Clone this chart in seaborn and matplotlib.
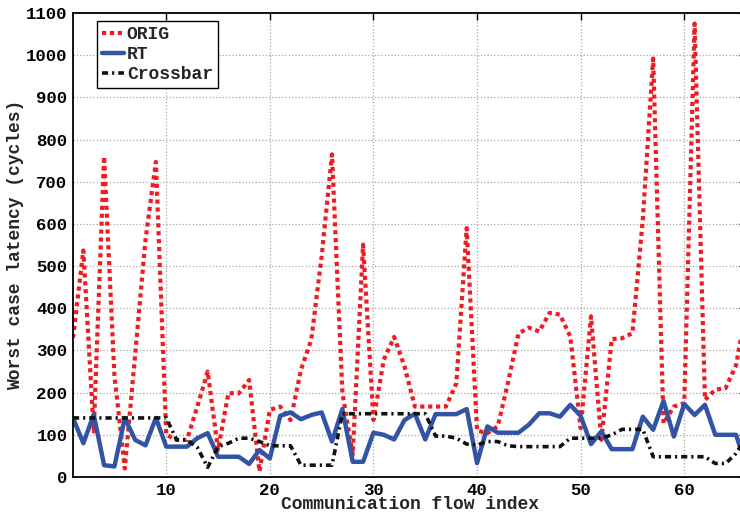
import matplotlib
matplotlib.use("Agg")
import matplotlib.pyplot as plt
import numpy as np
import pandas as pd
import seaborn as sns

# ---------------- data ----------------
flow_index = list(range(1, 67))
orig = [330, 537, 108, 760, 240, 20, 290, 563, 747, 100,
        88, 88, 167, 250, 64, 199, 198, 230, 13, 159,
        167, 135, 254, 325, 523, 765, 200, 53, 551, 135,
        278, 332, 262, 167, 167, 167, 167, 222, 590, 110,
        104, 120, 225, 340, 354, 345, 389, 385, 333, 116,
        381, 88, 327, 329, 341, 610, 992, 127, 167, 175,
        1075, 183, 207, 211, 265, 400]
rt = [140, 80, 148, 28, 25, 140, 88, 75, 140, 72,
      72, 72, 92, 104, 48, 48, 48, 31, 64, 44,
      145, 153, 137, 147, 153, 84, 161, 36, 36, 105,
      100, 89, 135, 150, 89, 149, 149, 149, 161, 33,
      120, 105, 105, 105, 124, 151, 151, 143, 171, 145,
      78, 108, 66, 66, 66, 143, 112, 180, 96, 173,
      147, 171, 100, 100, 100, 27]
crossbar = [140, 140, 140, 140, 140, 140, 140, 140, 140, 140,
            88, 88, 70, 23, 72, 80, 92, 92, 84, 74,
            74, 74, 28, 28, 28, 28, 150, 150, 150, 150,
            150, 150, 150, 150, 150, 97, 97, 92, 78, 76,
            84, 84, 74, 72, 72, 72, 72, 72, 92, 92,
            92, 92, 100, 113, 113, 113, 48, 48, 48, 48,
            48, 48, 32, 32, 56, 95]
series_names = ["ORIG", "RT", "Crossbar"]
x_ticks = [10, 20, 30, 40, 50, 60]
y_ticks = list(range(0, 1101, 100))
x_label = "Communication flow index"
y_label = "Worst case latency (cycles)"

# ---------------- style ----------------
sns.set_style("white")
plt.rcParams["font.family"] = ["Liberation Mono", "DejaVu Sans Mono"]
plt.rcParams["font.weight"] = "bold"

df = pd.DataFrame({
    "x": flow_index * 3,
    "y": orig + rt + crossbar,
    "series": [series_names[0]] * len(orig) + [series_names[1]] * len(rt)
              + [series_names[2]] * len(crossbar),
})

fig = plt.figure(figsize=(7.4, 5.12), dpi=100)
W, H = 740, 512
left_px, bottom_px = 73, 35
x0, x1 = 1, 66
px_per_unit = 10.36
ax = fig.add_axes([left_px / W, bottom_px / H,
                   (x1 - x0) * px_per_unit / W, (477 - 13) / H])

styles = {
    "ORIG": dict(color="#ee1d25", lw=3.0, linestyle=(0, (1.0, 0.9))),
    "RT": dict(color="#3354a5", lw=3.2, linestyle="-"),
    "Crossbar": dict(color="#111111", lw=2.6, linestyle=(0, (1.7, 1.1, 0.6, 1.1))),
}
for name in series_names:
    sub = df[df["series"] == name]
    sns.lineplot(data=sub, x="x", y="y", ax=ax, label=name,
                 errorbar=None, **styles[name])

ax.set_xlim(x0, x1)
ax.set_ylim(0, 1100)
ax.set_xticks(x_ticks)
ax.set_yticks(y_ticks)
ax.grid(True, which="major", linestyle=":", color="#a8a8a8", lw=0.9)
ax.tick_params(direction="in", length=5, width=1.0, top=True, right=True,
               labelsize=12.5, pad=4, colors="black")
for lbl in ax.get_xticklabels() + ax.get_yticklabels():
    lbl.set_fontweight("bold")
for side in ["left", "bottom", "top", "right"]:
    ax.spines[side].set_color("black")
    ax.spines[side].set_linewidth(1.3)

ax.set_xlabel(x_label, fontsize=13, fontweight="bold", labelpad=-1)
ax.set_ylabel(y_label, fontsize=13, fontweight="bold", labelpad=1)

handles, labels = ax.get_legend_handles_labels()
leg = ax.legend(handles, labels, loc="upper left",
                bbox_to_anchor=(97 / W, 1 - 21 / H), bbox_transform=fig.transFigure,
                borderaxespad=0, handlelength=1.2, handletextpad=0.15,
                labelspacing=0.15, borderpad=0.3, fancybox=False, framealpha=1,
                edgecolor="black", prop={"weight": "bold", "size": 13})
leg.get_frame().set_linewidth(1.0)

fig.savefig("out.png", dpi=100)
